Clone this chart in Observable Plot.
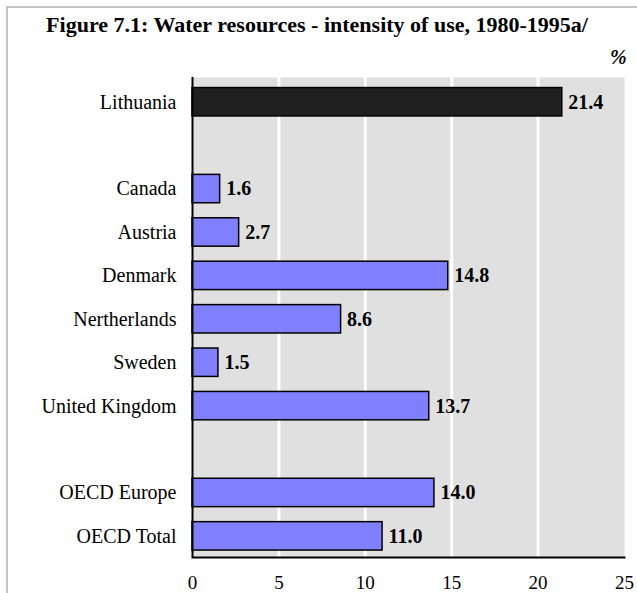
<!DOCTYPE html>
<html>
<head>
<meta charset="utf-8">
<script src="https://cdn.jsdelivr.net/npm/d3@7"></script>
<script src="https://cdn.jsdelivr.net/npm/@observablehq/plot@0.6"></script>
<style>
  html, body { margin: 0; padding: 0; background: #fff; }
  #wrap { position: relative; width: 637px; height: 593px; overflow: hidden; font-family: "Liberation Serif", "Times New Roman", serif; }
  #border { position: absolute; left: 6px; top: 6px; width: 700px; height: 700px; border-left: 2px solid #c4c4c4; border-top: 2px solid #c4c4c4; }
  #title { position: absolute; left: 0; width: 634px; top: 13px; line-height: 24px; text-align: center; font-weight: bold; font-size: 22px; color: #000; white-space: nowrap; }
  #unit { position: absolute; left: 610px; top: 46px; line-height: 22px; font-weight: bold; font-style: italic; font-size: 20px; }
  #chart { position: absolute; left: 0; top: 70px; }
</style>
</head>
<body>
<div id="wrap">
  <div id="border"></div>
  <div id="title">Figure 7.1: Water resources - intensity of use, 1980-1995a/</div>
  <div id="unit">%</div>
  <div id="chart"></div>
</div>
<script>
const categories = ["Lithuania", "Canada", "Austria", "Denmark", "Nertherlands", "Sweden", "United Kingdom", "OECD Europe", "OECD Total"];
const values = [21.4, 1.6, 2.7, 14.8, 8.6, 1.5, 13.7, 14.0, 11.0];
const groups = ["highlight", "other", "other", "other", "other", "other", "other", "other", "other"];
const rowOrder = ["Lithuania", "gap1", "Canada", "Austria", "Denmark", "Nertherlands", "Sweden", "United Kingdom", "gap2", "OECD Europe", "OECD Total"];
const xTicks = [0, 5, 10, 15, 20, 25];

const data = categories.map((c, i) => ({name: c, value: values[i], group: groups[i]}));

const chart = Plot.plot({
  width: 637,
  height: 523,
  marginLeft: 192,
  marginRight: 13,
  marginTop: 7,
  marginBottom: 36,
  style: {fontFamily: "'Liberation Serif', 'Times New Roman', serif", fontSize: "20px", color: "#000", background: "transparent", overflow: "visible"},
  x: {domain: [0, 25], ticks: xTicks, label: null},
  y: {domain: rowOrder, paddingInner: 0.346, paddingOuter: 0.16, insetTop: 3.6, round: false, label: null},
  color: {domain: ["highlight", "other"], range: ["#202020", "#8080ff"]},
  marks: [
    Plot.frame({fill: "#e0e0e0", stroke: null}),
    Plot.gridX(xTicks.slice(1, -1), {stroke: "#fff", strokeWidth: 3, strokeOpacity: 1}),
    Plot.axisX({ticks: xTicks, tickSize: 0, tickPadding: 18, fontSize: 19, label: null}),
    Plot.axisY({tickSize: 0, tickPadding: 16, fontSize: 20, label: null, tickFormat: d => d.startsWith("gap") ? "" : d}),
    Plot.barX(data, {x: "value", y: "name", fill: "group", stroke: "#000", strokeWidth: 1.5}),
    Plot.text(data, {x: "value", y: "name", text: d => d.value.toFixed(1), textAnchor: "start", dx: 6, fontWeight: "bold", fontSize: 20}),
    Plot.ruleX([0], {stroke: "#000", strokeWidth: 2}),
    Plot.frame({anchor: "bottom", stroke: "#000", strokeWidth: 2})
  ]
});
document.getElementById("chart").appendChild(chart);
</script>
</body>
</html>
